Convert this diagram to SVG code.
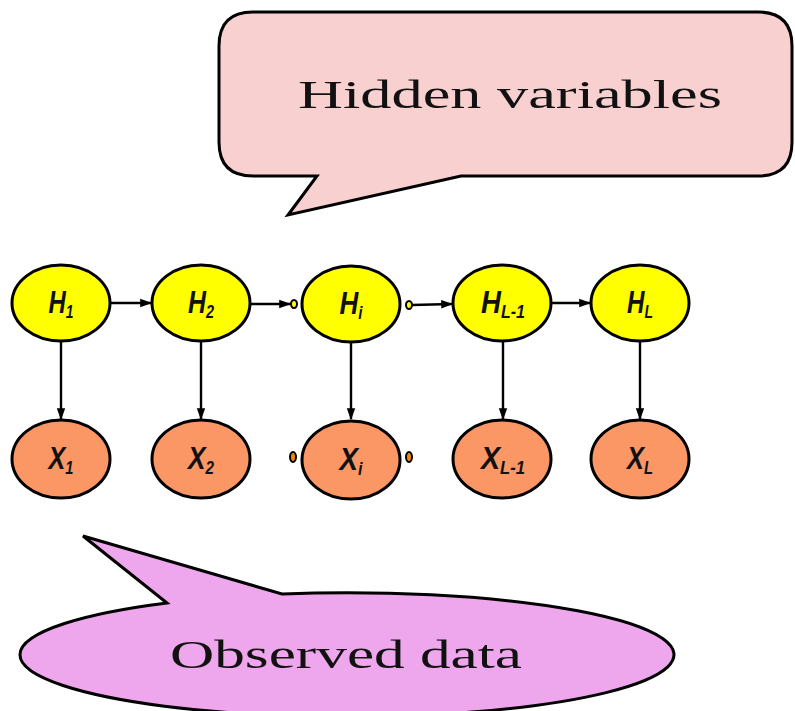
<svg xmlns="http://www.w3.org/2000/svg" width="795" height="711" viewBox="0 0 795 711">
<defs>
<marker id="ah" viewBox="0 0 10 10" refX="9" refY="5" markerWidth="5" markerHeight="5" orient="auto" markerUnits="strokeWidth">
<path d="M0,1.5 L10,5 L0,8.5 Z" fill="#000"/>
</marker>
<style>
.call{stroke:#000;stroke-width:3;stroke-linejoin:miter}
.ctext{font-family:"Liberation Serif",serif;font-size:39px;fill:#111}
.h{fill:#ffff00;stroke:#000;stroke-width:3}
.x{fill:#fb9665;stroke:#000;stroke-width:3}
.lbl{font-family:"Liberation Sans",Arial,sans-serif;font-style:italic;font-weight:bold;font-size:31px;fill:#111;text-anchor:middle}
.sub{font-size:18px}
.edge{stroke:#000;stroke-width:2.4;fill:none;marker-end:url(#ah)}
.dh{fill:#ffff00;stroke:#000;stroke-width:2}
.dx{fill:#f08a00;stroke:#000;stroke-width:2}
</style>
</defs>
<g id="hidden-callout">
<path class="call" fill="#f8d0d0" d="M253,12 H758 Q792,12 792,46 V142 Q792,176 758,176 H461 L288,215 L317,176 H253 Q219,176 219,142 V46 Q219,12 253,12 Z"/>
<text class="ctext" x="298" y="108" textLength="424" lengthAdjust="spacingAndGlyphs">Hidden variables</text>
</g>
<g id="observed-callout">
<path class="call" fill="#eea6ec" d="M167,603 A327,62 0 1 0 282,594 L83,536 Z"/>
<text class="ctext" x="170" y="668" textLength="352" lengthAdjust="spacingAndGlyphs">Observed data</text>
</g>
<g id="connectors">
<line class="edge" x1="110" y1="303" x2="151" y2="303"/>
<line class="edge" x1="250" y1="304" x2="290" y2="304"/>
<line class="edge" x1="412" y1="305" x2="452" y2="304"/>
<line class="edge" x1="552" y1="303" x2="590" y2="303"/>
<line class="edge" x1="61" y1="341" x2="61" y2="419"/>
<line class="edge" x1="201" y1="341" x2="201" y2="419"/>
<line class="edge" x1="351" y1="341" x2="351" y2="419"/>
<line class="edge" x1="503" y1="341" x2="503" y2="419"/>
<line class="edge" x1="640" y1="341" x2="640" y2="419"/>
</g>
<g id="dots">
<ellipse class="dh" cx="294" cy="304" rx="3" ry="4"/>
<ellipse class="dh" cx="409" cy="305" rx="3" ry="4"/>
<ellipse class="dx" cx="293" cy="457" rx="3" ry="5"/>
<ellipse class="dx" cx="409" cy="457" rx="3" ry="5"/>
</g>
<g id="H1"><ellipse class="h" cx="61" cy="303" rx="49" ry="38"/><text class="lbl" x="61" y="313" textLength="25" lengthAdjust="spacingAndGlyphs">H<tspan class="sub" dy="5">1</tspan></text></g>
<g id="H2"><ellipse class="h" cx="201" cy="303" rx="49" ry="38"/><text class="lbl" x="201" y="313" textLength="26" lengthAdjust="spacingAndGlyphs">H<tspan class="sub" dy="5">2</tspan></text></g>
<g id="Hi"><ellipse class="h" cx="351" cy="304" rx="49" ry="38"/><text class="lbl" x="351" y="314" textLength="23" lengthAdjust="spacingAndGlyphs">H<tspan class="sub" dy="5">i</tspan></text></g>
<g id="HL-1"><ellipse class="h" cx="502" cy="303" rx="49" ry="38"/><text class="lbl" x="503" y="313" textLength="44" lengthAdjust="spacingAndGlyphs">H<tspan class="sub" dy="5">L-1</tspan></text></g>
<g id="HL"><ellipse class="h" cx="640" cy="303" rx="49" ry="38"/><text class="lbl" x="640" y="313" textLength="26" lengthAdjust="spacingAndGlyphs">H<tspan class="sub" dy="5">L</tspan></text></g>
<g id="X1"><ellipse class="x" cx="61" cy="459" rx="49" ry="39"/><text class="lbl" x="61" y="469" textLength="25" lengthAdjust="spacingAndGlyphs">X<tspan class="sub" dy="5">1</tspan></text></g>
<g id="X2"><ellipse class="x" cx="201" cy="459" rx="49" ry="39"/><text class="lbl" x="201" y="469" textLength="26" lengthAdjust="spacingAndGlyphs">X<tspan class="sub" dy="5">2</tspan></text></g>
<g id="Xi"><ellipse class="x" cx="351" cy="460" rx="49" ry="39"/><text class="lbl" x="351" y="470" textLength="23" lengthAdjust="spacingAndGlyphs">X<tspan class="sub" dy="5">i</tspan></text></g>
<g id="XL-1"><ellipse class="x" cx="502" cy="459" rx="49" ry="39"/><text class="lbl" x="503" y="469" textLength="44" lengthAdjust="spacingAndGlyphs">X<tspan class="sub" dy="5">L-1</tspan></text></g>
<g id="XL"><ellipse class="x" cx="640" cy="459" rx="49" ry="39"/><text class="lbl" x="640" y="469" textLength="26" lengthAdjust="spacingAndGlyphs">X<tspan class="sub" dy="5">L</tspan></text></g>
</svg>
